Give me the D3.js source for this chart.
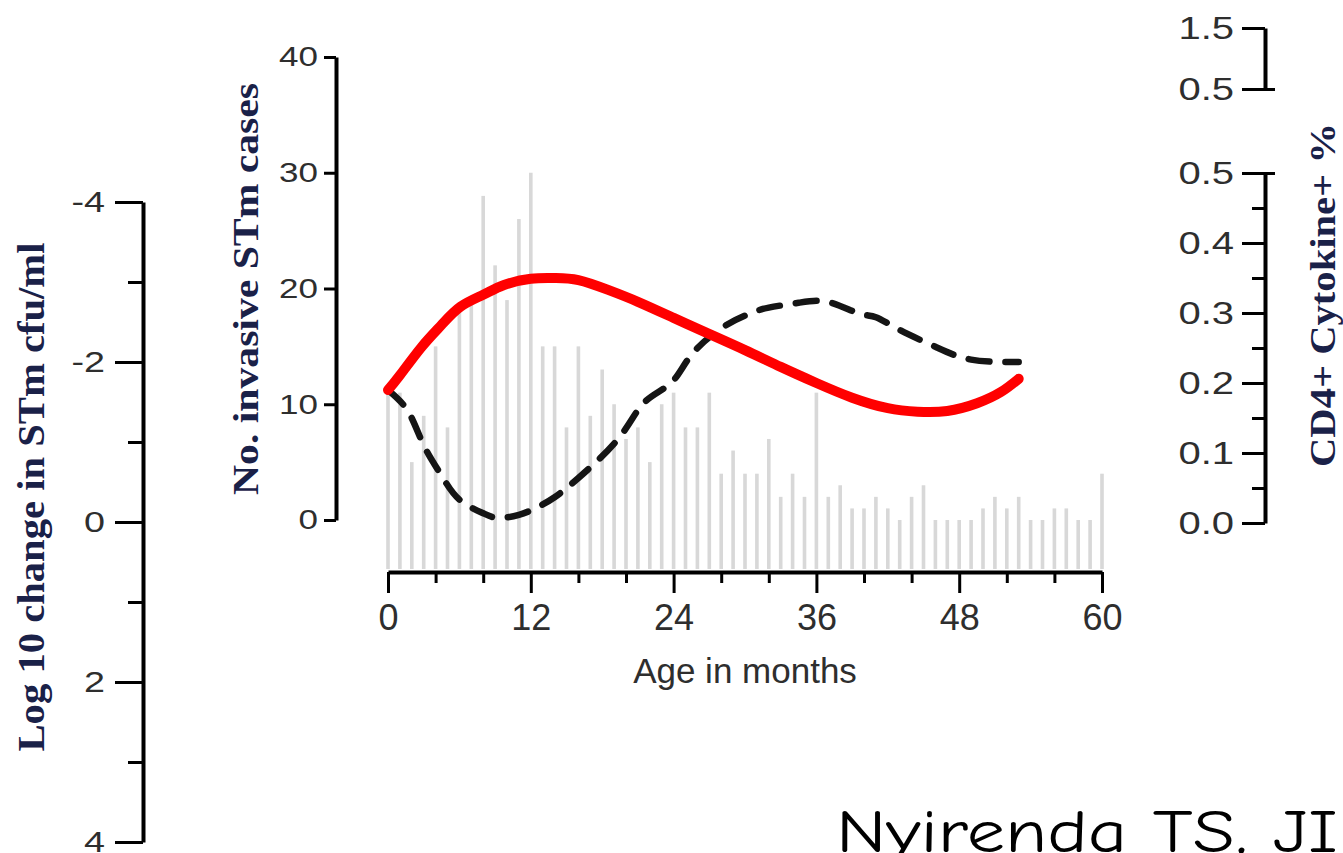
<!DOCTYPE html>
<meta charset="utf-8">
<style>
body { margin: 0; background: #fff; }
svg { display: block; }
.axis path.domain { stroke: #000; stroke-width: 4; }
.axis line { stroke: #000; stroke-width: 3; }
.axis text { font-family: "Liberation Sans", Arial, sans-serif; fill: #2e2e2e; }
.title { font-family: "Liberation Serif", "Times New Roman", serif; font-weight: bold; fill: #1a2148; }
.bar { fill: #d8d8d8; }
.cite { font-family: "Comic Sans MS", "Comic Neue", Lato, sans-serif; fill: #000; }
</style>
<svg width="1343" height="853"></svg>
<script src="https://cdn.jsdelivr.net/npm/d3@7"></script>
<script>

// invasive STm cases per month of age (read against the middle axis)
var ages = d3.range(0, 61);
var cases = [11, 11, 5, 9, 15, 8, 18, 19, 28, 22,
             19, 26, 30, 15, 15, 8, 15, 9, 13, 10,
             7, 8, 5, 10, 11, 8, 8, 11, 4, 6,
             4, 4, 7, 2, 4, 2, 11, 2, 3, 1,
             1, 2, 1, 0, 2, 3, 0, 0, 0, 0,
             1, 2, 1, 2, 0, 0, 1, 1, 0, 0,
             4];

// CD4+ cytokine+ % curve (right axis)
var cd4Age = [0, 1, 2.8, 4.5, 6.1, 8, 9.75, 12, 14, 16, 18.5, 21, 24, 26.6, 30, 33, 36, 39, 42, 44.5, 47, 49.5, 51.5, 53];
var cd4Val = [0.190, 0.211, 0.251, 0.283, 0.309, 0.326, 0.340, 0.349, 0.350, 0.347, 0.333, 0.316, 0.293, 0.273, 0.247, 0.223, 0.200, 0.179, 0.164, 0.159, 0.160, 0.171, 0.187, 0.206];

// log10 change in STm cfu/ml curve (left axis)
var killAge = [0, 1.7, 3, 4.5, 6, 8, 9.3, 11, 12.5, 14, 16, 19.4, 21.5, 23.8, 25.5, 28.2, 30.5, 32, 34.5, 37, 39.5, 41, 43, 46, 49, 53];
var killVal = [-1.65, -1.38, -0.96, -0.58, -0.28, -0.11, -0.05, -0.09, -0.18, -0.31, -0.55, -1.05, -1.49, -1.74, -2.09, -2.44, -2.61, -2.68, -2.74, -2.75, -2.61, -2.56, -2.40, -2.19, -2.03, -2.00];

var xTicks = [0, 12, 24, 36, 48, 60];
var xMinor = [4, 8, 16, 20, 28, 32, 40, 44, 52, 56];
var casesTicks = [0, 10, 20, 30, 40];
var logTicks = [-4, -2, 0, 2, 4];
var logMinor = [-3, -1, 1, 3];
var cd4Ticks = [0, 0.1, 0.2, 0.3, 0.4, 0.5];
var cd4Minor = [0.05, 0.15, 0.25, 0.35, 0.45];
var cd4BreakTicks = [0.5, 1.5];

var svg = d3.select("svg");

var x = d3.scaleLinear().domain([0, 60]).range([388, 1102]);
var yCases = d3.scaleLinear().domain([0, 40]).range([520, 57]);
var yLog = d3.scaleLinear().domain([-4, 4]).range([202, 842]);
var yCD4 = d3.scaleLinear().domain([0, 0.5]).range([523, 173]);
var yCD4Top = d3.scaleLinear().domain([0.5, 1.5]).range([89, 28]);
var barBase = 569;

function widen(sel, k) {
  sel.each(function() {
    var w = this.getComputedTextLength();
    d3.select(this).attr("textLength", w * k).attr("lengthAdjust", "spacingAndGlyphs");
  });
}

// bars
svg.append("g").selectAll("rect")
  .data(ages)
  .enter().append("rect")
    .attr("class", "bar")
    .attr("x", function(d) { return x(d) - 1.8; })
    .attr("width", 3.6)
    .attr("y", function(d, i) { return yCases(cases[i]); })
    .attr("height", function(d, i) { return barBase - yCases(cases[i]); });

// x axis
var gx = svg.append("g").attr("class", "axis").attr("transform", "translate(0,572)");
gx.call(d3.axisBottom(x).tickValues(xTicks).tickSize(21).tickSizeOuter(0).tickPadding(11));
gx.selectAll("text").attr("font-size", 36);
svg.append("g").attr("class", "axis").attr("transform", "translate(0,572)")
  .call(d3.axisBottom(x).tickValues(xMinor).tickSize(11).tickSizeOuter(0).tickFormat(""))
  .select(".domain").remove();
svg.append("text")
    .attr("x", 745).attr("y", 683)
    .attr("text-anchor", "middle")
    .attr("font-size", 35)
    .attr("font-family", "Liberation Sans, Arial, sans-serif")
    .attr("fill", "#2e2e2e")
    .text("Age in months");

// middle axis: cases
var gc = svg.append("g").attr("class", "axis").attr("transform", "translate(336,0)");
gc.call(d3.axisLeft(yCases).tickValues(casesTicks).tickSize(12).tickSizeOuter(0).tickPadding(6));
gc.selectAll("text").attr("font-size", 28).call(widen, 1.25);
svg.append("text")
    .attr("class", "title")
    .attr("transform", "translate(245,289) rotate(-90)")
    .attr("dy", "0.35em")
    .attr("text-anchor", "middle")
    .attr("font-size", 36)
    .attr("textLength", 412).attr("lengthAdjust", "spacingAndGlyphs")
    .text("No. invasive STm cases");

// left axis: log10 change
var gl = svg.append("g").attr("class", "axis").attr("transform", "translate(143,0)");
gl.call(d3.axisLeft(yLog).tickValues(logTicks).tickSize(28).tickSizeOuter(0).tickPadding(10)
  .tickFormat(function(d) { return String(d); }));
gl.selectAll("text").attr("font-size", 29).call(widen, 1.3);
svg.append("g").attr("class", "axis").attr("transform", "translate(143,0)")
  .call(d3.axisLeft(yLog).tickValues(logMinor).tickSize(15).tickSizeOuter(0).tickFormat(""))
  .select(".domain").remove();
svg.append("text")
    .attr("class", "title")
    .attr("transform", "translate(31,497) rotate(-90)")
    .attr("dy", "0.35em")
    .attr("text-anchor", "middle")
    .attr("font-size", 38)
    .attr("textLength", 509).attr("lengthAdjust", "spacingAndGlyphs")
    .text("Log 10 change in STm cfu/ml");

// right axis: CD4+ cytokine+ %, with a break
var gr = svg.append("g").attr("class", "axis").attr("transform", "translate(1265,0)");
gr.call(d3.axisLeft(yCD4).tickValues(cd4Ticks).tickSize(23).tickSizeOuter(0).tickPadding(8)
  .tickFormat(d3.format(".1f")));
gr.selectAll("text").attr("font-size", 32).call(widen, 1.25);
svg.append("g").attr("class", "axis").attr("transform", "translate(1265,0)")
  .call(d3.axisLeft(yCD4).tickValues(cd4Minor).tickSize(13).tickSizeOuter(0).tickFormat(""))
  .select(".domain").remove();
var gt = svg.append("g").attr("class", "axis").attr("transform", "translate(1265,0)");
gt.call(d3.axisLeft(yCD4Top).tickValues(cd4BreakTicks).tickSize(23).tickSizeOuter(0).tickPadding(8)
  .tickFormat(d3.format(".1f")));
gt.selectAll("text").attr("font-size", 32).call(widen, 1.25);
gt.selectAll(".tick line").filter(function(d) { return d === 0.5; }).attr("x1", 10);
gr.selectAll(".tick line").filter(function(d) { return d === 0.5; }).attr("x1", 10);
svg.append("text")
    .attr("class", "title")
    .attr("transform", "translate(1322,295) rotate(-90)")
    .attr("dy", "0.35em")
    .attr("text-anchor", "middle")
    .attr("font-size", 36)
    .attr("textLength", 344).attr("lengthAdjust", "spacingAndGlyphs")
    .text("CD4+ Cytokine+ %");

// curves
var killLine = d3.line()
    .x(function(d) { return x(d[0]); })
    .y(function(d) { return yLog(d[1]); })
    .curve(d3.curveNatural);
svg.append("path")
    .attr("d", killLine(d3.zip(killAge, killVal)))
    .attr("fill", "none")
    .attr("stroke", "#151515")
    .attr("stroke-width", 6.5)
    .attr("stroke-linecap", "round")
    .attr("stroke-dasharray", "21,16");

var cd4Line = d3.line()
    .x(function(d) { return x(d[0]); })
    .y(function(d) { return yCD4(d[1]); })
    .curve(d3.curveNatural);
svg.append("path")
    .attr("d", cd4Line(d3.zip(cd4Age, cd4Val)))
    .attr("fill", "none")
    .attr("stroke", "#ff0000")
    .attr("stroke-width", 10)
    .attr("stroke-linecap", "round");

// citation
svg.append("text")
    .attr("class", "cite")
    .attr("x", 836).attr("y", 852)
    .attr("font-size", 60)
    .attr("textLength", 550).attr("lengthAdjust", "spacingAndGlyphs")
    .text("Nyirenda TS, JID");

</script>
